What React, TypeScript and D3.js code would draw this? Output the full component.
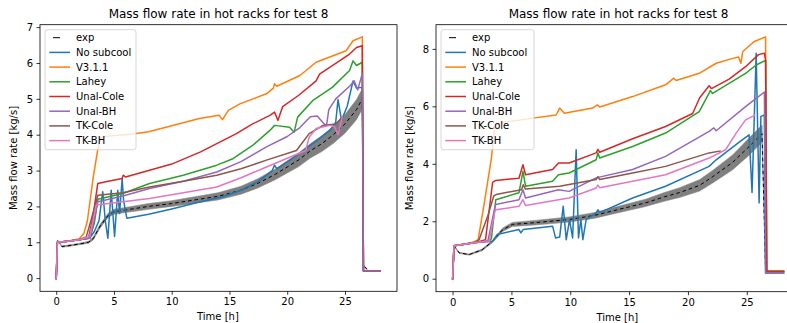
import React, { useRef, useEffect } from "react";
import * as d3 from "d3";

// [time h, mass flow kg/s, half width of the grey band]
const leftExp = [
  [0, -0.03, 0], [0.12, 1.05, 0.01], [0.25, 1.0, 0.01], [0.5, 0.88, 0.02], [1, 0.9, 0.02], [2, 0.95, 0.02],
  [2.8, 1.0, 0.03], [3.2, 1.1, 0.04], [3.8, 1.45, 0.05], [4.5, 1.75, 0.06], [5, 1.85, 0.07], [6, 1.9, 0.07],
  [8, 2.0, 0.08], [10, 2.08, 0.08], [12, 2.18, 0.09], [14, 2.28, 0.1], [16, 2.45, 0.11], [17.5, 2.65, 0.13],
  [19, 2.9, 0.15], [20, 3.1, 0.17], [21, 3.3, 0.19], [22, 3.55, 0.2], [23, 3.75, 0.22], [24, 4.0, 0.24],
  [25, 4.3, 0.26], [26, 4.7, 0.28], [26.5, 5.0, 0.28], [26.6, 0.35, 0.02], [26.9, 0.25, 0.01],
];
const leftNoSubcool = [
  [0, -0.03], [0.1, 1.0], [1, 1.03], [2, 1.07], [2.9, 1.12], [3.3, 1.3], [3.7, 1.6], [4.03, 2.41], [4.25, 1.6],
  [4.47, 1.11], [4.76, 2.45], [5.05, 1.16], [5.33, 2.45], [5.48, 1.8], [5.71, 2.78], [5.83, 2.17], [6.11, 1.67],
  [8, 1.78], [10, 1.93], [12.4, 2.12], [14.4, 2.27], [16, 2.45], [17.5, 2.7], [18.7, 3.0], [18.9, 3.15], [19.1, 3.05],
  [20.5, 3.35], [22, 3.7], [23.7, 4.12], [24.2, 4.35], [24.4, 4.98], [24.7, 4.4], [25.2, 4.8], [25.7, 5.5],
  [26.0, 5.3], [26.5, 5.32], [26.6, 0.2], [28.1, 0.2],
];
const leftV311 = [
  [0, -0.03], [0.1, 1.0], [1, 1.03], [2, 1.1], [2.4, 1.25], [2.7, 1.6], [3.2, 2.8], [3.6, 3.6], [3.8, 3.9],
  [4.2, 3.95], [6.6, 4.02], [8, 4.08], [9.5, 4.21], [12.4, 4.45], [14.1, 4.54], [14.4, 4.42], [14.9, 4.68],
  [15.9, 4.86], [18.2, 5.14], [18.8, 5.3], [18.9, 5.42], [19.1, 5.35], [21.1, 5.65], [22.5, 6.02], [25.1, 6.34],
  [25.7, 6.62], [26.5, 6.73], [26.6, 0.2], [28.1, 0.2],
];
const leftLahey = [
  [0, -0.03], [0.1, 1.0], [1, 1.03], [2, 1.07], [2.9, 1.11], [3.3, 1.53], [3.6, 2.2], [5.77, 2.36], [8.08, 2.64],
  [11, 2.87], [13.9, 3.15], [15.3, 3.33], [17, 3.7], [18.5, 4.12], [18.9, 4.26], [20.2, 4.21], [20.6, 4.07],
  [20.9, 4.49], [22.2, 4.95], [23.9, 5.32], [25.4, 5.79], [25.7, 6.06], [26.0, 5.93], [26.5, 6.02], [26.6, 0.2],
  [28.1, 0.2],
];
const leftUnalCole = [
  [0, -0.03], [0.1, 1.0], [1, 1.03], [2, 1.07], [2.8, 1.12], [3.17, 1.7], [3.6, 2.64], [4.5, 2.7], [5.7, 2.78],
  [5.8, 2.87], [6, 2.82], [8, 3.0], [10, 3.18], [12.5, 3.52], [15.6, 4.03], [17, 4.3], [18.5, 4.54], [18.9, 4.63],
  [19.2, 4.4], [19.6, 4.78], [21, 5.1], [22.5, 5.5], [22.8, 5.69], [25.4, 6.25], [26, 6.43], [26.5, 6.48],
  [26.6, 0.2], [28.1, 0.2],
];
const leftUnalBH = [
  [0, -0.03], [0.1, 1.0], [1, 1.03], [2, 1.07], [2.9, 1.12], [3.2, 1.5], [3.6, 2.13], [5.77, 2.29], [8.08, 2.5],
  [11, 2.7], [13.9, 2.96], [16, 3.25], [18.2, 3.66], [20, 3.95], [21.1, 4.2], [22, 4.5], [22.6, 4.52], [23.2, 4.3],
  [23.4, 4.25], [23.6, 4.7], [24.2, 5.0], [25.4, 5.35], [25.8, 5.5], [26.1, 5.25], [26.5, 5.7], [26.6, 0.2],
  [28.1, 0.2],
];
const leftTKCole = [
  [0, -0.03], [0.1, 1.0], [1, 1.03], [2, 1.08], [2.6, 1.15], [3.0, 1.6], [3.6, 2.31], [5.77, 2.38], [8.08, 2.54],
  [11, 2.7], [13.9, 2.87], [16, 3.05], [18.2, 3.29], [20.8, 3.56], [21.9, 4.03], [23.1, 4.26], [24.2, 4.3],
  [24.8, 4.5],
];
const leftTKBH = [
  [0, -0.03], [0.1, 1.0], [1, 1.03], [2, 1.07], [2.9, 1.16], [3.46, 2.04], [5.77, 2.13], [8.08, 2.22], [11, 2.38],
  [13.9, 2.54], [16, 2.8], [18.2, 3.1], [21.6, 3.56], [21.9, 3.93], [22.5, 4.17], [23.7, 4.26], [24.1, 4.22],
  [24.4, 4.0], [24.8, 4.54],
];

const rightExp = [
  [0, -0.03, 0], [0.14, 1.13, 0.01], [0.56, 0.9, 0.02], [1.4, 0.84, 0.02], [2.5, 1.0, 0.03], [3.4, 1.3, 0.04],
  [4.24, 1.7, 0.06], [5.08, 1.89, 0.07], [7, 1.95, 0.08], [9.9, 2.06, 0.09], [12, 2.2, 0.1], [14, 2.4, 0.11],
  [16.4, 2.64, 0.13], [18, 2.85, 0.15], [19.3, 3.0, 0.17], [21, 3.25, 0.2], [22.1, 3.55, 0.22], [23.8, 4.05, 0.26],
  [25.2, 4.6, 0.3], [26.3, 5.05, 0.3], [26.6, 0.3, 0.02], [26.9, 0.25, 0.01],
];
const rightNoSubcool = [
  [0, -0.03], [0.12, 1.15], [1, 1.2], [2, 1.26], [3.4, 1.3], [3.8, 1.54], [5.64, 1.71], [5.8, 1.6], [6.0, 1.71],
  [8.5, 1.83], [8.75, 1.42], [9.1, 1.45], [9.4, 2.52], [9.66, 1.36], [9.94, 2.06], [10.2, 1.42], [10.5, 4.49],
  [10.7, 1.42], [10.9, 2.06], [11.07, 1.36], [11.35, 2.06], [12.2, 2.29], [12.35, 2.4], [12.5, 2.3], [15.3, 2.81],
  [18.1, 3.22], [21.8, 3.91], [22.4, 4.14], [24.5, 4.8], [25.2, 5.01], [25.45, 3.0], [25.8, 7.85], [26.05, 2.64],
  [26.2, 5.65], [26.5, 5.7], [26.6, 0.2], [28.2, 0.2],
];
const rightV311 = [
  [0, -0.03], [0.12, 1.15], [1, 1.2], [1.8, 1.28], [2.17, 1.36], [2.6, 2.4], [3.3, 4.2], [3.58, 5.3], [4.0, 5.42],
  [6.83, 5.59], [8.8, 5.7], [9.1, 5.94], [9.5, 5.76], [11.9, 5.94], [12.3, 6.05], [12.5, 5.98], [15.3, 6.34],
  [18.1, 6.75], [18.8, 6.98], [19.0, 6.9], [20.96, 7.15], [22.4, 7.5], [23.8, 7.67], [24.3, 7.72], [24.5, 7.5],
  [24.65, 7.9], [25.6, 8.25], [26.6, 8.42], [26.7, 0.27], [28.2, 0.27],
];
const rightLahey = [
  [0, -0.03], [0.12, 1.15], [1, 1.2], [2, 1.26], [3.1, 1.3], [3.3, 1.4], [3.67, 2.75], [5.64, 2.99], [5.98, 3.74],
  [6.2, 3.22], [8.5, 3.39], [9.0, 3.62], [9.9, 3.68], [12.2, 4.14], [12.35, 4.38], [12.5, 4.2], [15.3, 4.6],
  [18.1, 5.07], [20.96, 5.82], [21.8, 6.46], [21.9, 6.55], [22.1, 6.45], [24.9, 7.15], [25.8, 7.44], [26.6, 7.6],
  [26.7, 0.26], [28.2, 0.26],
];
const rightUnalCole = [
  [0, -0.03], [0.12, 1.15], [1, 1.2], [2, 1.26], [2.8, 1.36], [3.4, 3.35], [3.67, 3.42], [5.64, 3.5], [5.98, 3.97],
  [6.2, 3.62], [8.5, 3.8], [9.0, 4.03], [9.9, 4.03], [12.2, 4.38], [12.35, 4.5], [12.5, 4.4], [15.3, 4.87],
  [18.1, 5.3], [20.4, 5.75], [21.0, 6.3], [21.8, 6.72], [22.0, 6.62], [23.5, 6.95], [24.9, 7.38], [26.0, 7.8],
  [26.5, 7.85], [26.6, 7.6], [26.7, 0.25], [28.2, 0.25],
];
const rightUnalBH = [
  [0, -0.03], [0.12, 1.15], [1, 1.2], [2, 1.26], [3.0, 1.32], [3.6, 2.5], [3.67, 2.58], [5.64, 2.75], [5.98, 3.1],
  [6.2, 2.81], [9.0, 3.1], [9.9, 3.04], [12.2, 3.51], [15.3, 3.8], [18.1, 4.26], [21.8, 5.13], [22.2, 5.25],
  [22.4, 5.15], [24.9, 5.99], [25.8, 6.28], [26.5, 6.5], [26.6, 0.2], [28.2, 0.2],
];
const rightTKCole = [
  [0, -0.03], [0.12, 1.15], [1, 1.2], [2, 1.28], [2.25, 1.36], [3.0, 2.2], [3.5, 2.88], [3.7, 2.93], [5.85, 3.1],
  [6.0, 3.27], [6.2, 3.12], [9.1, 3.22], [12.2, 3.45], [12.35, 3.55], [12.5, 3.45], [15.3, 3.68], [18.1, 3.91],
  [21.8, 4.38], [22.8, 4.45],
];
const rightTKBH = [
  [0, -0.03], [0.12, 1.15], [1, 1.2], [2, 1.26], [3.1, 1.3], [3.6, 2.35], [3.67, 2.4], [5.64, 2.52], [5.98, 2.75],
  [6.2, 2.55], [9.0, 2.75], [9.9, 2.81], [12.2, 3.16], [12.35, 3.26], [12.5, 3.17], [15.3, 3.39], [18.1, 3.62],
  [21.8, 4.2], [23.2, 4.49], [24.1, 5.07], [24.9, 5.53], [25.5, 5.65], [25.7, 5.7],
];

const modelNames = ["No subcool", "V3.1.1", "Lahey", "Unal-Cole", "Unal-BH", "TK-Cole", "TK-BH"];
const modelColors = ["#1f77b4", "#ff7f0e", "#2ca02c", "#d62728", "#9467bd", "#8c564b", "#e377c2"];
const leftModels = [leftNoSubcool, leftV311, leftLahey, leftUnalCole, leftUnalBH, leftTKCole, leftTKBH];
const rightModels = [rightNoSubcool, rightV311, rightLahey, rightUnalCole, rightUnalBH, rightTKCole, rightTKBH];

const xTicks = [0, 5, 10, 15, 20, 25];
const leftYTicks = [0, 1, 2, 3, 4, 5, 6, 7];
const rightYTicks = [0, 2, 4, 6, 8];

const title = "Mass flow rate in hot racks for test 8";
const font = "DejaVu Sans, sans-serif";

function drawPanel(root, id, frame, exp, models, yTicks, legendW) {
  const g = root.append("g");
  const all = exp.map((d) => [d[0], d[1]]).concat(...models);
  const padded = (ext) => {
    const m = (ext[1] - ext[0]) * 0.05;
    return [ext[0] - m, ext[1] + m];
  };
  const x = d3.scaleLinear().domain(padded(d3.extent(all, (d) => d[0]))).range([frame.x0, frame.x1]);
  const y = d3.scaleLinear().domain(padded(d3.extent(all, (d) => d[1]))).range([frame.y1, frame.y0]);

  g.append("clipPath")
    .attr("id", id)
    .append("rect")
    .attr("x", frame.x0)
    .attr("y", frame.y0)
    .attr("width", frame.x1 - frame.x0)
    .attr("height", frame.y1 - frame.y0);

  const plot = g.append("g").attr("clip-path", `url(#${id})`);

  // grey band around the experiment
  const band = d3
    .area()
    .x((d) => x(d[0]))
    .y0((d) => y(d[1] - d[2]))
    .y1((d) => y(d[1] + d[2]));
  plot.append("path").attr("d", band(exp)).attr("fill", "#7f7f7f").attr("stroke", "#8a8a8a").attr("stroke-width", 0.6);

  const line = d3
    .line()
    .x((d) => x(d[0]))
    .y((d) => y(d[1]));
  plot
    .append("path")
    .attr("d", line(exp))
    .attr("fill", "none")
    .attr("stroke", "#000")
    .attr("stroke-width", 1)
    .attr("stroke-dasharray", "3.5,3");

  models.forEach((data, i) => {
    plot
      .append("path")
      .attr("d", line(data))
      .attr("fill", "none")
      .attr("stroke", modelColors[i])
      .attr("stroke-width", 1.5)
      .attr("stroke-linejoin", "round");
  });

  // axes
  const xAxis = g
    .append("g")
    .attr("transform", `translate(0,${frame.y1})`)
    .call(d3.axisBottom(x).tickValues(xTicks).tickSize(3.5).tickPadding(3.5));
  const yAxis = g
    .append("g")
    .attr("transform", `translate(${frame.x0},0)`)
    .call(d3.axisLeft(y).tickValues(yTicks).tickSize(3.5).tickPadding(3.5));
  [xAxis, yAxis].forEach((a) => {
    a.select(".domain").remove();
    a.selectAll("line").attr("stroke", "#000").attr("stroke-width", 0.8);
    a.selectAll("text").attr("fill", "#000").attr("font-size", 10).attr("font-family", font);
  });

  g.append("rect")
    .attr("x", frame.x0)
    .attr("y", frame.y0)
    .attr("width", frame.x1 - frame.x0)
    .attr("height", frame.y1 - frame.y0)
    .attr("fill", "none")
    .attr("stroke", "#000")
    .attr("stroke-width", 0.8);

  const cx = (frame.x0 + frame.x1) / 2;
  g.append("text")
    .attr("x", cx)
    .attr("y", frame.y0 - 7)
    .attr("text-anchor", "middle")
    .attr("font-size", 12)
    .attr("font-family", font)
    .text(title);
  g.append("text")
    .attr("x", x(14))
    .attr("y", frame.y1 + 29)
    .attr("text-anchor", "middle")
    .attr("font-size", 10)
    .attr("font-family", font)
    .text("Time [h]");
  g.append("text")
    .attr("transform", `translate(${frame.x0 - 23},${(frame.y0 + frame.y1) / 2}) rotate(-90)`)
    .attr("text-anchor", "middle")
    .attr("font-size", 10)
    .attr("font-family", font)
    .text("Mass flow rate [kg/s]");

  // legend
  const lx = frame.x0 + 5;
  const ly = frame.y0 + 5;
  const lg = g.append("g").attr("transform", `translate(${lx},${ly})`);
  lg.append("rect")
    .attr("width", legendW)
    .attr("height", 120)
    .attr("rx", 2.5)
    .attr("fill", "#fff")
    .attr("fill-opacity", 0.8)
    .attr("stroke", "#cccccc")
    .attr("stroke-width", 0.8);
  const rows = ["exp"].concat(modelNames);
  rows.forEach((name, i) => {
    const ry = 8 + i * 14.7;
    if (i === 0) {
      lg.append("line").attr("x1", 8).attr("x2", 15).attr("y1", ry).attr("y2", ry).attr("stroke", "#000").attr("stroke-width", 1);
    } else {
      lg.append("line")
        .attr("x1", 4.3)
        .attr("x2", 25)
        .attr("y1", ry)
        .attr("y2", ry)
        .attr("stroke", modelColors[i - 1])
        .attr("stroke-width", 1.5);
    }
    lg.append("text")
      .attr("x", 31)
      .attr("y", ry)
      .attr("dy", "0.35em")
      .attr("font-size", 10)
      .attr("font-family", font)
      .text(name);
  });
}

export default function App() {
  const ref = useRef(null);

  useEffect(() => {
    const svg = d3.select(ref.current);
    svg.selectAll("*").remove();
    drawPanel(svg, "clipL", { x0: 40, x1: 397, y0: 24.7, y1: 291.3 }, leftExp, leftModels, leftYTicks, 91);
    drawPanel(svg, "clipR", { x0: 436, x1: 801, y0: 24.7, y1: 291.7 }, rightExp, rightModels, rightYTicks, 93);
  }, []);

  return (
    <svg
      ref={ref}
      width={787}
      height={323}
      style={{ position: "absolute", left: 0, top: 0, background: "#fff" }}
    />
  );
}
